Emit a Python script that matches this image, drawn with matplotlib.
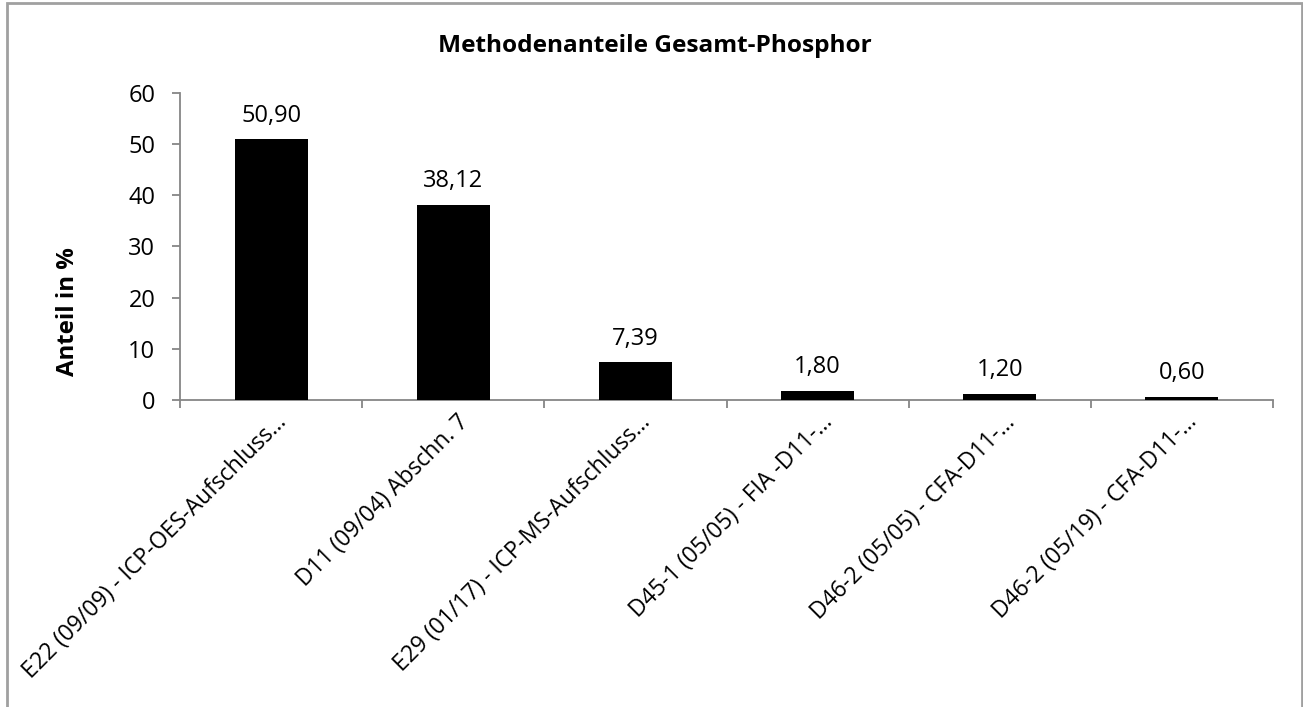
import matplotlib
matplotlib.use("Agg")
import matplotlib.pyplot as plt
from matplotlib.patches import Rectangle
import matplotlib.transforms as mtransforms

categories = [
    "E22 (09/09) - ICP-OES-Aufschluss…",
    "D11 (09/04) Abschn. 7",
    "E29 (01/17) - ICP-MS-Aufschluss…",
    "D45-1 (05/05) - FIA -D11-…",
    "D46-2 (05/05) - CFA-D11-…",
    "D46-2 (05/19) - CFA-D11-…",
]
values = [50.90, 38.12, 7.39, 1.80, 1.20, 0.60]
yticks = [0, 10, 20, 30, 40, 50, 60]
title = "Methodenanteile Gesamt-Phosphor"
ylabel = "Anteil in %"

plt.rcParams['font.family'] = ['Open Sans', 'DejaVu Sans']
FS = 17

W, H = 1303, 707
fig = plt.figure(figsize=(W/100, H/100), dpi=100)
ax = fig.add_axes([180/W, 1-400/H, (1273-180)/W, (400-92.7)/H])

x = list(range(len(categories)))
ax.bar(x, values, width=0.4, color='black', zorder=3)
ax.set_xlim(-0.5, len(categories)-0.5)
ax.set_ylim(0, 60)
ax.set_yticks(yticks)
ax.set_yticklabels([str(t) for t in yticks], fontsize=FS)

for xi, v in zip(x, values):
    ax.annotate(f"{v:.2f}".replace('.', ','), (xi, v), xytext=(0, 12.6),
                textcoords='offset points', ha='center', va='baseline', fontsize=FS)

gray = '#868686'
for s in ['top', 'right']:
    ax.spines[s].set_visible(False)
for s in ['left', 'bottom']:
    ax.spines[s].set_color(gray)
    ax.spines[s].set_linewidth(1.3)

ax.set_xticks([i - 0.5 for i in range(len(categories)+1)])
ax.set_xticklabels([])
ax.tick_params(axis='x', length=5.8, color=gray, width=1.3, direction='out')
ax.tick_params(axis='y', length=5.8, color=gray, width=1.3, direction='out', pad=12)

offset = mtransforms.ScaledTranslation(16/100, -23/100, fig.dpi_scale_trans)
for xi, lab in zip(x, categories):
    ax.text(xi, 0, lab, transform=ax.get_xaxis_transform() + offset,
            rotation=45, ha='right', va='baseline', rotation_mode='anchor', fontsize=16.5)

fig.text(655/W, 1-52/H, title, ha='center', va='baseline', fontsize=17.6, fontweight='bold')
fig.text(68/W, 1-247/H, ylabel, ha='right', va='center', rotation=90,
         rotation_mode='anchor', fontsize=17.3, fontweight='bold')

fig.patches.append(Rectangle((6.5/W, -0.05), (1302-6.5)/W, 1.05 - 3/H,
                             transform=fig.transFigure, fill=False,
                             edgecolor='#a0a0a0', linewidth=2))

fig.savefig("out.png", dpi=100)
